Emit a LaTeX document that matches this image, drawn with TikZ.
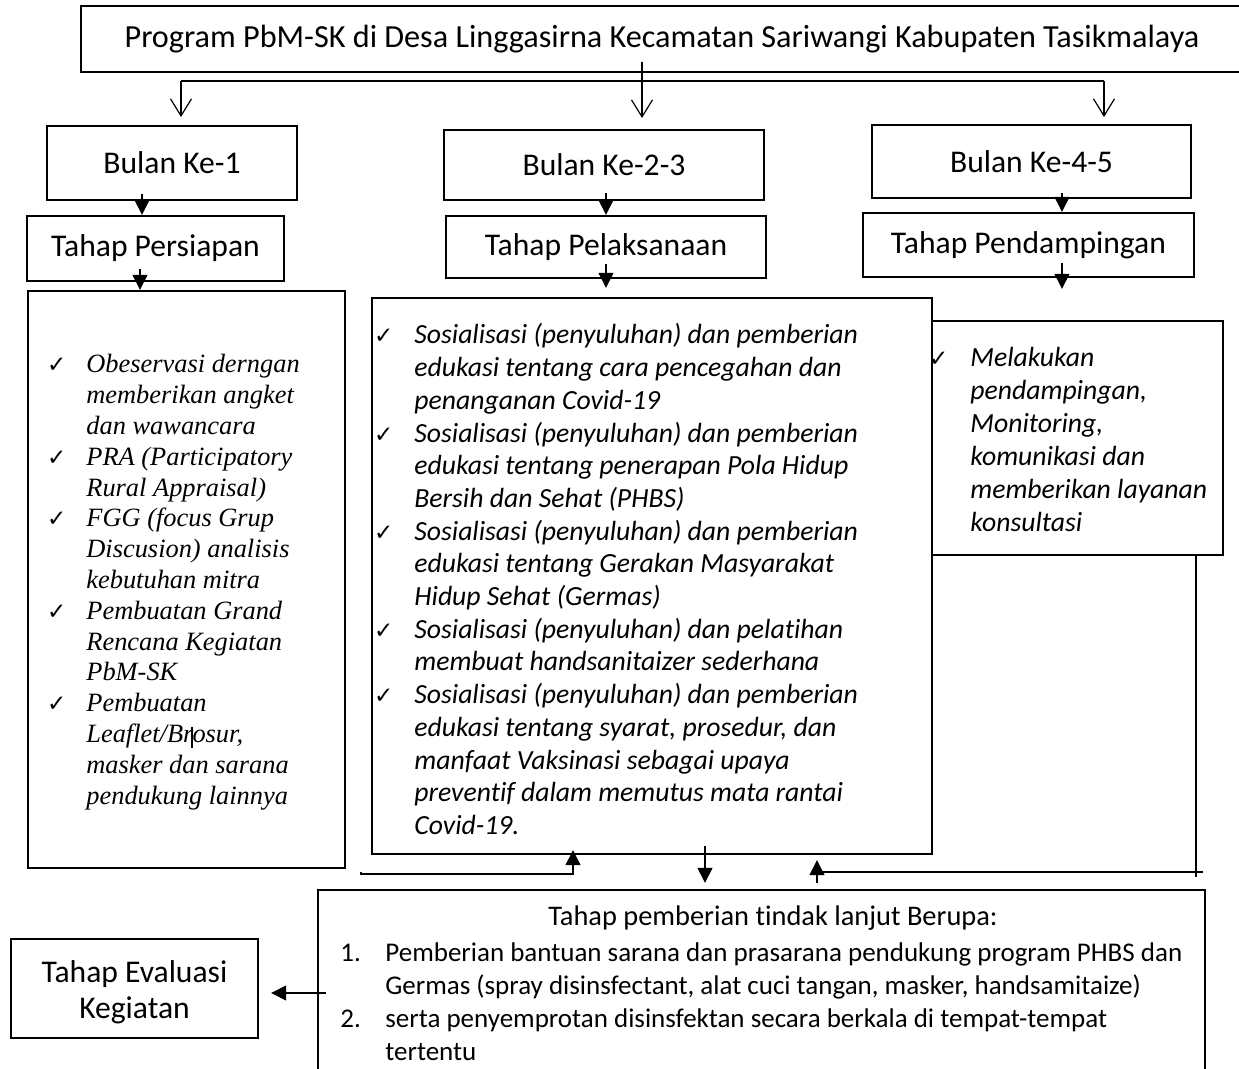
\documentclass[tikz,border=0pt]{standalone}
\usepackage{fontspec}
\setmainfont{Carlito}[Ligatures={NoCommon}]
\newfontfamily\tnrfont{Liberation Serif}
\newfontfamily\symfont{DejaVu Sans}
\usetikzlibrary{arrows.meta}
\newcommand{\ckm}[1]{\leavevmode\llap{{\symfont\upshape\fontsize{11.5}{10}\selectfont ✓}\hspace{#1}}}
\begin{document}
\begin{tikzpicture}[x=0.5pt,y=-0.5pt,
  box/.style={draw, line width=1.2pt, inner sep=0pt, align=center, font=\fontsize{15.8}{18}\selectfont},
  farr/.style={line width=0.7pt, -{Triangle[width=7.5pt,length=7.5pt]}},
  oarr/.style={line width=0.6pt, -{Straight Barb[width=10.5pt,length=8.5pt]}},
  plain/.style={line width=0.7pt}]
\fill[white] (0,0) rectangle (1239,1069);
\useasboundingbox (0,0) rectangle (1239,1069);

% boxes
\node[box, line width=1.3pt, minimum width=581pt, minimum height=33pt, font=\fontsize{16.1}{18}\selectfont] (top) at (662,39) {Program PbM-SK di Desa Linggasirna Kecamatan Sariwangi Kabupaten Tasikmalaya};
\node[box, minimum width=125pt, minimum height=37pt] (b1) at (172,163) {Bulan Ke-1};
\node[box, minimum width=128.5pt, minimum height=32.5pt] (tp1) at (155.5,248.5) {Tahap Persiapan};
\node[box, minimum width=158.5pt, minimum height=288.5pt] (l1) at (186.5,579.5) {};
\node[box, minimum width=160pt, minimum height=35pt] (b2) at (604,165) {Bulan Ke-2-3};
\node[box, minimum width=160pt, minimum height=31pt] (tp2) at (606,247) {Tahap Pelaksanaan};
\node[box, minimum width=280pt, minimum height=278pt] (l2) at (652,576) {};
\node[box, minimum width=159.5pt, minimum height=36.5pt] (b3) at (1031.5,161.5) {Bulan Ke-4-5};
\node[box, minimum width=165.5pt, minimum height=32pt] (tp3) at (1028.5,245) {Tahap Pendampingan};
\node[box, minimum width=145.5pt, minimum height=117pt] (l3) at (1077.5,438) {};
\node[box, minimum width=443.5pt, minimum height=95pt] (tl) at (761.5,985) {};
\node[box, minimum width=123.5pt, minimum height=49.5pt] (ev) at (134.5,988.5) {};
\node[inner sep=0pt, align=center, font=\fontsize{15.8}{18}\selectfont] (evt) at (134.5,992) {Tahap Evaluasi\\Kegiatan};

% list texts
\node[anchor=base west, inner sep=0pt] (t1) at (86,373) {\parbox[t]{150pt}{\raggedright\tnrfont\itshape\fontsize{13.2}{15.4}\selectfont
\ckm{10pt}Obeservasi derngan\\
memberikan angket\\
dan wawancara\\
\ckm{10pt}PRA (Participatory\\
Rural Appraisal)\\
\ckm{10pt}FGG (focus Grup\\
Discusion) analisis\\
kebutuhan mitra\\
\ckm{10pt}Pembuatan Grand\\
Rencana Kegiatan\\
PbM-SK\\
\ckm{10pt}Pembuatan\\
Leaflet/Brosur,\\
masker dan sarana\\
pendukung lainnya}};
\draw[line width=0.6pt] (192,727) -- (192,748);

\node[anchor=base west, inner sep=0pt] (t2) at (414,344) {\parbox[t]{260pt}{\raggedright\itshape\fontsize{13.85}{16.35}\selectfont
\ckm{10.5pt}Sosialisasi (penyuluhan) dan pemberian\\
edukasi tentang cara pencegahan dan\\
penanganan Covid-19\\
\ckm{10.5pt}Sosialisasi (penyuluhan) dan pemberian\\
edukasi tentang penerapan Pola Hidup\\
Bersih dan Sehat (PHBS)\\
\ckm{10.5pt}Sosialisasi (penyuluhan) dan pemberian\\
edukasi tentang Gerakan Masyarakat\\
Hidup Sehat (Germas)\\
\ckm{10.5pt}Sosialisasi (penyuluhan) dan pelatihan\\
membuat handsanitaizer sederhana\\
\ckm{10.5pt}Sosialisasi (penyuluhan) dan pemberian\\
edukasi tentang syarat, prosedur, dan\\
manfaat Vaksinasi sebagai upaya\\
preventif dalam memutus mata rantai\\
Covid-19.}};

\node[anchor=base west, inner sep=0pt] (t3) at (970,367) {\parbox[t]{125pt}{\raggedright\itshape\fontsize{13.85}{16.5}\selectfont
\ckm{11pt}Melakukan\\
pendampingan,\\
Monitoring,\\
komunikasi dan\\
memberikan layanan\\
konsultasi}};

\node[anchor=base, inner sep=0pt, font=\fontsize{14.2}{16.5}\selectfont] (th) at (773,926) {Tahap pemberian tindak lanjut Berupa:};
\node[anchor=base west, inner sep=0pt] (ti) at (340,962) {\parbox[t]{450pt}{\raggedright\fontsize{13.5}{16.5}\selectfont
\makebox[22.5pt][l]{1.}Pemberian bantuan sarana dan prasarana pendukung program PHBS dan\\
\hspace*{22.5pt}Germas (spray disinsfectant, alat cuci tangan, masker, handsamitaize)\\
\makebox[22.5pt][l]{2.}serta penyemprotan disinsfektan secara berkala di tempat-tempat\\
\hspace*{22.5pt}tertentu}};

% top connectors
\coordinate (c0) at (642,62);
\coordinate (c0e) at (642,118);
\draw[oarr] (c0) -- (c0e);
\coordinate (hl) at (181,81);
\coordinate (hr) at (1104,81);
\coordinate (hle) at (181,117);
\coordinate (hre) at (1104,117);
\draw[plain, line width=0.6pt] (hl) -- (hr);
\draw[oarr] (hl) -- (hle);
\draw[oarr] (hr) -- (hre);

% vertical flow arrows
\draw[farr] ([xshift=-15pt,yshift=3.5pt]b1.south) -- ([xshift=-6.75pt]tp1.north);
\draw[farr] ([xshift=-7.75pt,yshift=6.5pt]tp1.south) -- ([xshift=-23.25pt]l1.north);
\draw[farr] ([xshift=1pt,yshift=4pt]b2.south) -- (tp2.north);
\draw[farr] ([yshift=7.5pt]tp2.south) -- ([xshift=-23pt,yshift=4.5pt]l2.north);
\draw[farr] ([xshift=15.25pt,yshift=3pt]b3.south) -- ([xshift=16.75pt]tp3.north);
\draw[farr] ([xshift=16.75pt,yshift=7.5pt]tp3.south) -- ([xshift=-7.75pt,yshift=15.5pt]l3.north);

% bottom connectors
\draw[farr] ([xshift=26.5pt,yshift=4.5pt]l2.south) -- ([xshift=-28.25pt,yshift=3pt]tl.north);
\draw[farr] ([xshift=27.75pt,yshift=3pt]tl.north) -- ([xshift=82.5pt,yshift=-2.5pt]l2.south);
\coordinate (r1) at (1196,877);
\draw[plain] ([xshift=59.25pt]l3.south) -- (r1);
\coordinate (r2) at (1203,872);
\coordinate (r3) at (817,872);
\draw[plain] (r2) -- (r3);
\coordinate (k1) at (361,872);
\coordinate (k2) at (361,874);
\coordinate (k3) at (573,874);
\draw[plain, -{Triangle[width=7.5pt,length=7.5pt]}] (k1) -- (k2) -- (k3) -- ([xshift=-39.5pt,yshift=2.5pt]l2.south);
\draw[farr] ([xshift=4.5pt,yshift=-4pt]tl.west) -- ([xshift=6pt,yshift=-2.25pt]ev.east);
\end{tikzpicture}
\end{document}
